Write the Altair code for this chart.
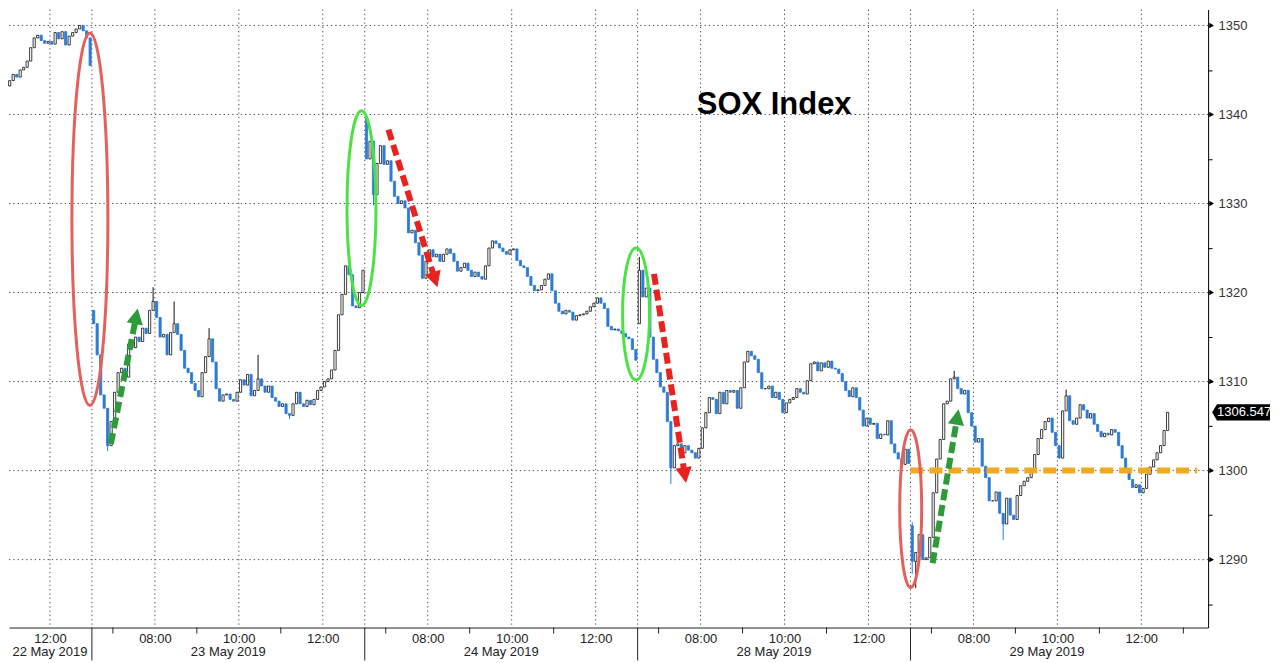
import json
import math
import altair as alt
import pandas as pd

# ---------------- data ----------------
session_dates = ["22 May 2019", "23 May 2019", "24 May 2019", "28 May 2019", "29 May 2019"]
session_first_hour = [11.0, 6.5, 6.5, 6.5, 6.5]   # clock time of first 5-min bar
first_open = [1343.2, 1318.0, 1339.6, 1316.5, 1293.8]

closes_22 = [1343.8, 1344.5, 1344.2, 1345.0, 1345.3, 1346.0, 1347.5, 1348.6, 1348.9, 1348.3,
             1348.0, 1348.2, 1347.9, 1349.2, 1348.5, 1349.3, 1347.8, 1348.8, 1349.2, 1349.6,
             1350.0, 1349.4, 1348.6, 1345.5]
closes_23 = [1316.5, 1313.0, 1308.5, 1307.0, 1302.8, 1305.5, 1308.8, 1311.0, 1311.5, 1310.5,
             1314.2, 1313.8, 1315.0, 1314.5, 1316.0, 1315.4, 1318.0, 1319.0, 1317.2, 1315.0,
             1315.3, 1313.0, 1315.5, 1316.5, 1315.3, 1313.5, 1311.5, 1311.0, 1309.8, 1309.0,
             1308.3, 1311.0, 1312.8, 1314.8, 1312.2, 1309.2, 1307.8, 1308.5, 1308.6, 1308.0,
             1307.8, 1308.8, 1310.2, 1309.6, 1310.8, 1308.4, 1309.0, 1310.3, 1309.5, 1308.8,
             1309.5, 1308.2, 1307.8, 1307.2, 1307.5, 1306.4, 1306.2, 1307.5, 1308.8, 1307.5,
             1307.2, 1307.9, 1307.4, 1308.0, 1309.0, 1309.4, 1310.0, 1310.3, 1311.3, 1313.5,
             1317.5, 1319.8, 1323.0, 1322.0, 1318.5, 1318.3, 1320.0, 1322.5]
closes_24 = [1335.0, 1337.0, 1331.0, 1334.5, 1336.5, 1334.4, 1334.8, 1332.5, 1330.8, 1330.0,
             1330.3, 1329.5, 1326.7, 1327.0, 1325.6, 1324.2, 1321.6, 1323.5, 1324.8, 1324.0,
             1324.3, 1323.5, 1324.3, 1324.9, 1324.4, 1323.5, 1322.4, 1322.8, 1323.3, 1322.5,
             1321.8, 1322.3, 1321.8, 1321.5, 1323.0, 1325.0, 1325.8, 1325.5, 1325.0, 1324.6,
             1324.3, 1324.8, 1324.9, 1323.6, 1323.0, 1322.8, 1321.8, 1320.8, 1320.2, 1320.3,
             1320.8, 1321.5, 1322.1, 1320.2, 1318.8, 1317.9, 1317.6, 1318.0, 1317.8, 1316.9,
             1317.4, 1317.5, 1317.6, 1317.9, 1318.4, 1318.8, 1319.4, 1318.8, 1318.2, 1316.2,
             1315.8, 1315.9, 1315.7, 1315.4, 1315.0, 1314.8, 1313.6, 1312.4]
closes_28 = [1322.5, 1319.5, 1320.5, 1315.0, 1312.5, 1311.0, 1309.4, 1308.8, 1305.5, 1300.3,
             1302.8, 1303.0, 1302.0, 1302.8, 1302.3, 1302.0, 1301.4, 1302.5, 1304.8, 1306.5,
             1308.2, 1308.0, 1306.4, 1308.8, 1307.5, 1309.0, 1308.8, 1309.0, 1307.0, 1309.3,
             1312.2, 1313.4, 1312.9, 1312.5, 1311.0, 1309.2, 1309.2, 1309.5, 1308.2, 1308.8,
             1308.0, 1306.5, 1307.6, 1308.0, 1308.2, 1309.2, 1308.8, 1308.6, 1310.1, 1312.0,
             1312.2, 1311.2, 1312.1, 1311.6, 1312.3, 1311.5, 1311.4, 1310.9, 1310.0, 1309.0,
             1308.3, 1309.3, 1308.2, 1306.8, 1305.0, 1305.9, 1305.2, 1305.3, 1303.6, 1304.1,
             1304.0, 1305.6, 1303.0, 1302.0, 1301.3, 1300.7, 1302.4, 1300.8]
closes_29 = [1289.8, 1290.8, 1292.8, 1290.0, 1290.2, 1292.5, 1297.5, 1301.3, 1303.5, 1307.5,
             1307.8, 1310.3, 1310.5, 1309.2, 1308.6, 1309.0, 1306.5, 1305.0, 1303.2, 1303.6,
             1300.5, 1299.2, 1296.6, 1296.6, 1297.6, 1295.2, 1294.0, 1296.9, 1295.0, 1294.5,
             1297.2, 1298.3, 1298.8, 1299.2, 1300.2, 1301.8, 1303.6, 1304.6, 1305.5, 1305.9,
             1304.3, 1302.8, 1301.4, 1306.7, 1308.4, 1305.6, 1305.2, 1305.9, 1307.4, 1306.8,
             1305.9, 1306.4, 1305.2, 1304.4, 1303.8, 1304.2, 1304.0, 1304.6, 1304.3, 1302.8,
             1301.4, 1300.1, 1299.0, 1298.1, 1298.4, 1297.5, 1298.0, 1299.6, 1300.4, 1301.2,
             1302.0, 1302.8, 1304.5, 1306.547]
all_closes = [closes_22, closes_23, closes_24, closes_28, closes_29]

# notable wicks (session, bar, value)
wick_highs = [(1, 17, 1320.6), (1, 23, 1319.0), (1, 33, 1316.0), (1, 47, 1313.0),
              (2, 0, 1340.0), (3, 0, 1324.0), (4, 0, 1294.2), (4, 12, 1311.2), (4, 44, 1309.1)]
wick_lows = [(1, 4, 1302.2), (1, 56, 1305.8), (2, 2, 1329.8), (3, 9, 1298.5),
             (4, 0, 1288.4), (4, 1, 1286.8), (4, 26, 1292.2)]

last_price = 1306.547
level_line = 1300

# axis content
time_tick_session = [0, 1, 1, 1, 2, 2, 2, 3, 3, 3, 4, 4, 4]
time_tick_hour = [12, 8, 10, 12, 8, 10, 12, 8, 10, 12, 8, 10, 12]
minor_tick_session = [1, 1, 1, 2, 2, 2, 3, 3, 3, 4, 4, 4, 4]
minor_tick_hour = [7, 9, 11, 7, 9, 11, 7, 9, 11, 7, 9, 11, 13]
divider_session = [1, 2, 3, 4]
price_grid = [1290, 1300, 1310, 1320, 1330, 1340, 1350]
price_ticks = [1285, 1290, 1295, 1300, 1305, 1310, 1315, 1320, 1325, 1330, 1335, 1340, 1345, 1350]

# annotations (data coordinates: trading-hour position, price)
ellipse_t = [6.452, 12.922, 19.463, 26.005]
ellipse_p = [1328.24, 1329.48, 1317.59, 1295.72]
ellipse_color = ["#e6605b", "#4be343", "#4be343", "#e6605b"]
ellipse_wpx = [36, 29, 27, 22]
ellipse_hpx = [373, 195, 132, 158]

arrow_start_t = [6.951, 13.564, 19.891, 26.528]
arrow_start_p = [1303.0, 1338.3, 1322.1, 1289.6]
arrow_tip_t = [7.593, 14.73, 20.652, 27.146]
arrow_tip_p = [1318.2, 1320.6, 1298.6, 1306.9]
arrow_color = ["#2e9b3a", "#e8231f", "#e8231f", "#2e9b3a"]

level_t = [26.0, 32.83]
title_text = "SOX Index"
title_pos = (20.91, 1341.1)

# ---------------- geometry ----------------
W, H = 1201, 619
T0, T1 = 4.525, 33.09
P0, P1 = 1282.37, 1351.79
PX_T = W / (T1 - T0)
PX_P = H / (P1 - P0)
FONT = "Liberation Sans"


def tpos(s, hour):
    return s * 6.5 + hour - 6.5


xs = alt.Scale(domain=[T0, T1], nice=False, zero=False, padding=0)
ys = alt.Scale(domain=[P0, P1], nice=False, zero=False, padding=0)

# candles table
rows = []
hi_map = {(s, i): v for s, i, v in wick_highs}
lo_map = {(s, i): v for s, i, v in wick_lows}
prev = None
for s, closes in enumerate(all_closes):
    for i, c in enumerate(closes):
        o = first_open[s] if i == 0 else prev
        hi = max(o, c, hi_map.get((s, i), -1e9))
        lo = min(o, c, lo_map.get((s, i), 1e9))
        up = c >= o
        rows.append({
            "t": tpos(s, session_first_hour[s]) + (i + 0.5) / 12.0,
            "open": o, "close": c, "high": hi, "low": lo,
            "fill": "#ffffff" if up else "#2b7bd6",
            "stroke": "#111111" if up else "#2b7bd6",
        })
        prev = c
candles = pd.DataFrame(rows)

time_t = [tpos(s, h) for s, h in zip(time_tick_session, time_tick_hour)]
time_labels = ["%02d:00" % h for h in time_tick_hour]
minor_t = [tpos(s, h) for s, h in zip(minor_tick_session, minor_tick_hour)]
divider_t = [s * 6.5 for s in divider_session]
date_t = [time_t[0]] + [s * 6.5 + 3.25 for s in range(1, 5)]

label_expr = "%s[indexof(%s, datum.value)]" % (json.dumps(time_labels), json.dumps(time_t))

x_axis = alt.Axis(
    values=time_t, labelExpr=label_expr, ticks=False, tickSize=0, grid=False,
    domainColor="#222", domainWidth=1, labelColor="#222", labelFont=FONT,
    labelFontSize=13, labelPadding=5, labelFlush=False, labelOverlap=False, title=None)
y_axis = alt.Axis(
    orient="right", values=price_ticks, format="d",
    labelExpr="datum.value % 10 == 0 ? datum.label : ''",
    tickSize=4, tickColor="#000", tickWidth=1, domainColor="#000", domainWidth=1,
    labelColor="#333", labelFont=FONT, labelFontSize=13, labelPadding=6,
    grid=False, title=None)


def X(field):
    return alt.X(field, scale=xs, axis=x_axis)


def Y(field):
    return alt.Y(field, scale=ys, axis=y_axis)


grid_style = dict(color="#4a4a4a", strokeDash=[1.3, 3], strokeWidth=1)

hgrid = alt.Chart(pd.DataFrame({"p": price_grid})).mark_rule(**grid_style).encode(y=Y("p:Q"))

vgrid = alt.Chart(pd.DataFrame({"t": time_t + divider_t})).mark_rule(**grid_style).encode(x=X("t:Q"))

wicks = alt.Chart(candles).mark_rule(strokeWidth=1).encode(
    x=X("t:Q"), y=Y("low:Q"), y2="high:Q",
    stroke=alt.Stroke("stroke:N", scale=None))

bodies = alt.Chart(candles).mark_bar(size=2.2, strokeWidth=0.8).encode(
    x=X("t:Q"), y=Y("open:Q"), y2="close:Q",
    fill=alt.Fill("fill:N", scale=None), stroke=alt.Stroke("stroke:N", scale=None))

level = alt.Chart(pd.DataFrame({"t": [level_t[0]], "t2": [level_t[1]], "p": [level_line]})).mark_rule(
    color="#f0aa22", strokeWidth=6, strokeDash=[13, 6]).encode(
    x=X("t:Q"), x2="t2:Q", y=Y("p:Q"))


def ellipse_path(r):
    k = 0.5523
    return ("M {a} 0 C {a} {k} {b} 1 0 1 C {nb} 1 {na} {k} {na} 0 "
            "C {na} {nk} {nb} -1 0 -1 C {b} -1 {a} {nk} {a} 0 Z").format(
        a=round(r, 4), na=round(-r, 4), b=round(r * k, 4), nb=round(-r * k, 4), k=k, nk=-k)


ellipses = []
for t, p, col, wpx, hpx in zip(ellipse_t, ellipse_p, ellipse_color, ellipse_wpx, ellipse_hpx):
    ellipses.append(alt.Chart(pd.DataFrame({"t": [t], "p": [p]})).mark_point(
        shape=ellipse_path(wpx / hpx), size=hpx * hpx, filled=False, stroke=col,
        strokeWidth=3, opacity=1).encode(x=X("t:Q"), y=Y("p:Q")))

head_path = "M 0 0 L 0.5 0.95 L -0.5 0.95 Z"
shaft_rows = []
heads = []
for st, sp, tt, tp, col in zip(arrow_start_t, arrow_start_p, arrow_tip_t, arrow_tip_p, arrow_color):
    dx = (tt - st) * PX_T
    dy = -(tp - sp) * PX_P
    L = math.hypot(dx, dy)
    ux, uy = dx / L, dy / L
    end_t = tt - 13 * ux / PX_T
    end_p = tp + 13 * uy / PX_P
    shaft_rows.append({"t": st, "p": sp, "t2": end_t, "p2": end_p, "col": col})
    ang = math.degrees(math.atan2(dx, -dy)) % 360
    heads.append(alt.Chart(pd.DataFrame({"t": [tt], "p": [tp]})).mark_point(
        shape=head_path, size=1089, filled=True, fill=col, strokeWidth=0, opacity=1,
        angle=round(ang, 2)).encode(x=X("t:Q"), y=Y("p:Q")))

shafts = alt.Chart(pd.DataFrame(shaft_rows)).mark_rule(strokeWidth=6, strokeDash=[11, 5]).encode(
    x=X("t:Q"), y=Y("p:Q"), x2="t2:Q", y2="p2:Q", color=alt.Color("col:N", scale=None))

title = alt.Chart(pd.DataFrame({"t": [title_pos[0]], "p": [title_pos[1]], "txt": [title_text]})).mark_text(
    align="left", baseline="middle", font=FONT, fontSize=31, fontWeight="bold", color="#000").encode(
    x=X("t:Q"), y=Y("p:Q"), text="txt:N")

minor_ticks = alt.Chart(pd.DataFrame({"t": minor_t})).mark_rule(color="#222", strokeWidth=1).encode(
    x=X("t:Q"), y=alt.value(H), y2=alt.value(H + 6))

divider_ticks = alt.Chart(pd.DataFrame({"t": divider_t})).mark_rule(color="#222", strokeWidth=1).encode(
    x=X("t:Q"), y=alt.value(H), y2=alt.value(H + 33))

date_labels = alt.Chart(pd.DataFrame({"t": date_t, "txt": session_dates})).mark_text(
    align="center", baseline="middle", font=FONT, fontSize=13, color="#222").encode(
    x=X("t:Q"), y=alt.value(H + 25), text="txt:N")

axis_marks = alt.Chart(pd.DataFrame({"p": price_grid})).mark_point(
    shape="triangle-right", size=30, filled=True, color="#000", opacity=1).encode(
    x=alt.value(W + 3.5), y=Y("p:Q"))

tag_path = "M -1 0 L -0.83 -0.28 L 1 -0.28 L 1 0.28 L -0.83 0.28 Z"
tag_df = pd.DataFrame({"p": [last_price], "txt": ["%.3f" % last_price]})
tag = alt.Chart(tag_df).mark_point(shape=tag_path, size=3364, filled=True, color="#000",
                                   opacity=1).encode(x=alt.value(W + 33), y=Y("p:Q"))
tag_text = alt.Chart(tag_df).mark_text(align="center", baseline="middle", font=FONT,
                                       fontSize=13, color="#fff").encode(
    x=alt.value(W + 36), y=Y("p:Q"), text="txt:N")

chart = alt.layer(
    hgrid, vgrid, wicks, bodies, level, *ellipses, shafts, *heads, title,
    minor_ticks, divider_ticks, date_labels, axis_marks, tag, tag_text
).properties(width=W, height=H, padding=0).configure_view(stroke=None)

chart.save("out.html", embed_options={"renderer": "svg", "actions": False})
